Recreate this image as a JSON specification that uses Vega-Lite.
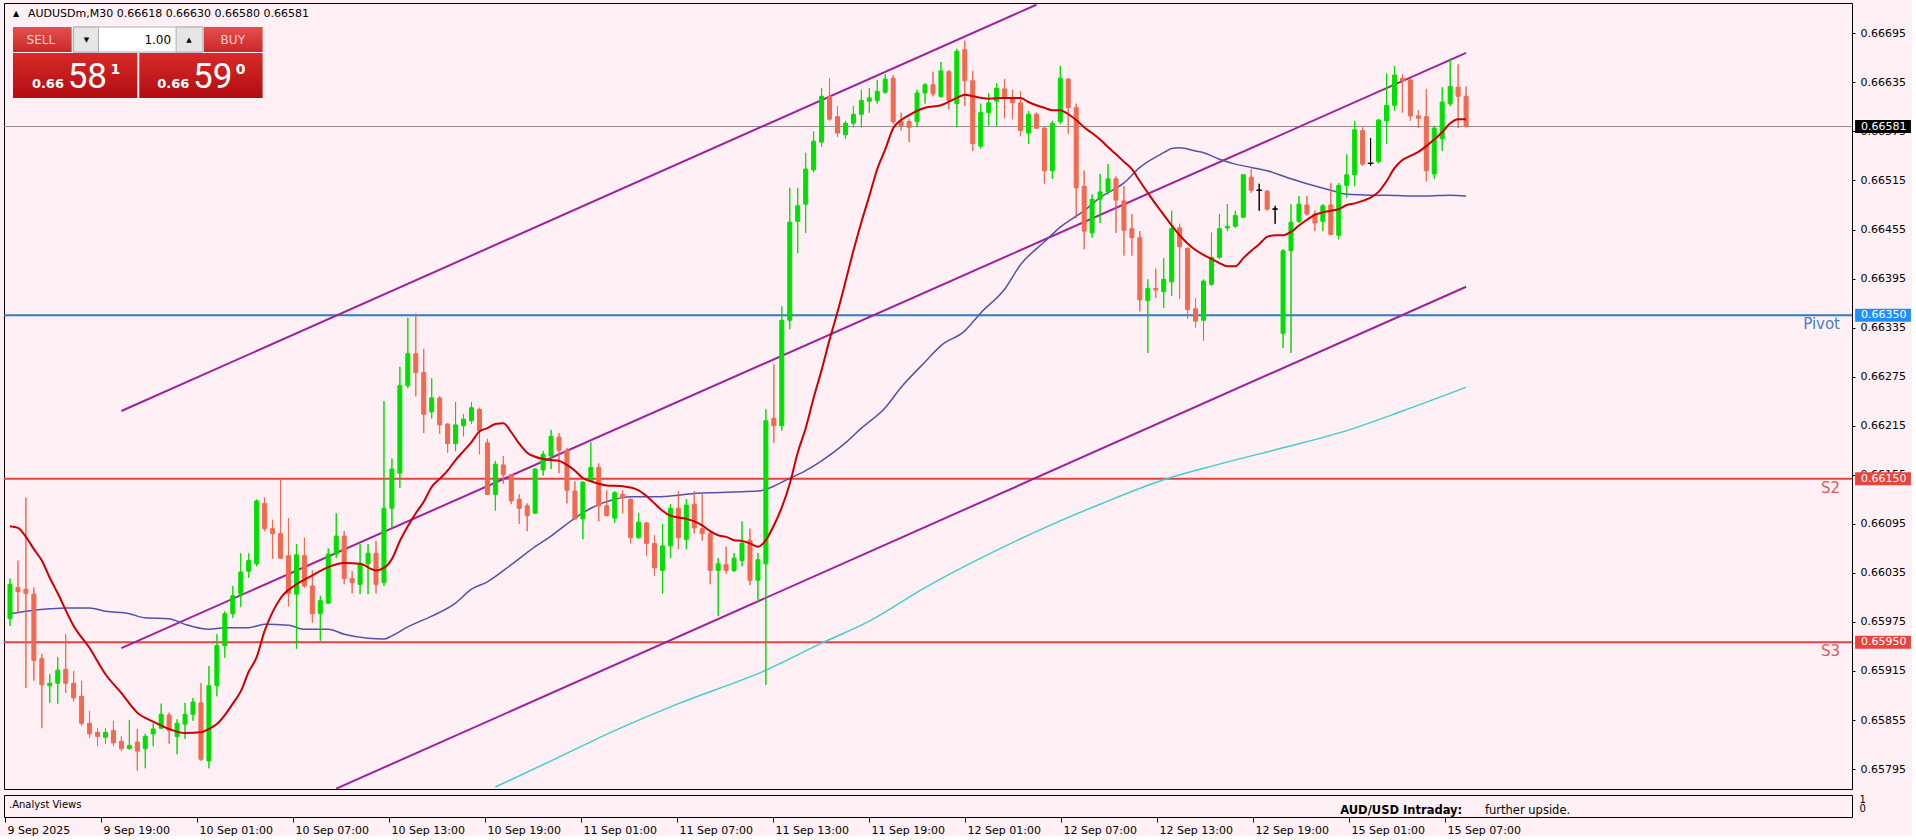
{
"$schema":"https://vega.github.io/schema/vega-lite/v6.json",
"background":"#FFF0F5",
"padding":{"left":2,"top":2,"right":0,"bottom":0},
"config":{"view":{"stroke":"#000000","strokeWidth":1},"font":"DejaVu Sans",
 "axis":{"domain":false,"grid":false,"title":null,"tickColor":"#000000","labelColor":"#000000","labelFont":"DejaVu Sans","labelFontSize":11,"labelOverlap":false,"labelFlush":false}},
"spacing":4,
"datasets":{
"candles":[
{"i":0,"o":0.65979,"h":0.66028,"l":0.6597,"c":0.66021},
{"i":1,"o":0.66017,"h":0.6605,"l":0.65985,"c":0.66012},
{"i":2,"o":0.66015,"h":0.66127,"l":0.65894,"c":0.6601},
{"i":3,"o":0.66009,"h":0.66017,"l":0.65903,"c":0.65928},
{"i":4,"o":0.6593,"h":0.65936,"l":0.65845,"c":0.65898},
{"i":5,"o":0.65897,"h":0.65911,"l":0.65876,"c":0.659},
{"i":6,"o":0.659,"h":0.65932,"l":0.65875,"c":0.65916},
{"i":7,"o":0.65917,"h":0.6596,"l":0.65888,"c":0.659},
{"i":8,"o":0.659,"h":0.65915,"l":0.65878,"c":0.65882},
{"i":9,"o":0.65884,"h":0.65903,"l":0.65848,"c":0.65851},
{"i":10,"o":0.65851,"h":0.65866,"l":0.65833,"c":0.65838},
{"i":11,"o":0.6584,"h":0.65845,"l":0.65823,"c":0.65835},
{"i":12,"o":0.65834,"h":0.65845,"l":0.65826,"c":0.6584},
{"i":13,"o":0.65842,"h":0.65854,"l":0.65823,"c":0.65827},
{"i":14,"o":0.65829,"h":0.65835,"l":0.65817,"c":0.6582},
{"i":15,"o":0.6582,"h":0.65855,"l":0.65819,"c":0.65824},
{"i":16,"o":0.65828,"h":0.65844,"l":0.65793,"c":0.65817},
{"i":17,"o":0.6582,"h":0.65838,"l":0.65796,"c":0.65835},
{"i":18,"o":0.65838,"h":0.65851,"l":0.65823,"c":0.65844},
{"i":19,"o":0.65845,"h":0.65875,"l":0.65844,"c":0.65862},
{"i":20,"o":0.65861,"h":0.65864,"l":0.65826,"c":0.65842},
{"i":21,"o":0.65835,"h":0.65856,"l":0.65813,"c":0.65851},
{"i":22,"o":0.6585,"h":0.65876,"l":0.65832,"c":0.65862},
{"i":23,"o":0.65862,"h":0.65882,"l":0.65854,"c":0.65877},
{"i":24,"o":0.65876,"h":0.659,"l":0.65805,"c":0.65807},
{"i":25,"o":0.65805,"h":0.65921,"l":0.65796,"c":0.65897},
{"i":26,"o":0.65897,"h":0.6596,"l":0.65884,"c":0.65946},
{"i":27,"o":0.65946,"h":0.65988,"l":0.65931,"c":0.65985},
{"i":28,"o":0.65985,"h":0.66019,"l":0.6598,"c":0.66007},
{"i":29,"o":0.66009,"h":0.66059,"l":0.65993,"c":0.66036},
{"i":30,"o":0.66037,"h":0.66059,"l":0.66029,"c":0.6605},
{"i":31,"o":0.66046,"h":0.66125,"l":0.66043,"c":0.66123},
{"i":32,"o":0.6612,"h":0.66127,"l":0.66086,"c":0.66089},
{"i":33,"o":0.66089,"h":0.661,"l":0.66052,"c":0.66083},
{"i":34,"o":0.66083,"h":0.66149,"l":0.66052,"c":0.66053},
{"i":35,"o":0.66056,"h":0.66102,"l":0.65994,"c":0.6601},
{"i":36,"o":0.66009,"h":0.6607,"l":0.65942,"c":0.66057},
{"i":37,"o":0.66056,"h":0.66078,"l":0.66017,"c":0.66019},
{"i":38,"o":0.66019,"h":0.66038,"l":0.65974,"c":0.65985},
{"i":39,"o":0.65985,"h":0.66007,"l":0.65952,"c":0.66001},
{"i":40,"o":0.65998,"h":0.66065,"l":0.65997,"c":0.66058},
{"i":41,"o":0.66058,"h":0.66108,"l":0.66053,"c":0.6608},
{"i":42,"o":0.6608,"h":0.66086,"l":0.66021,"c":0.66028},
{"i":43,"o":0.66028,"h":0.66037,"l":0.6601,"c":0.66023},
{"i":44,"o":0.66021,"h":0.6607,"l":0.66009,"c":0.66046},
{"i":45,"o":0.66046,"h":0.6607,"l":0.66009,"c":0.66059},
{"i":46,"o":0.66059,"h":0.66074,"l":0.6601,"c":0.66021},
{"i":47,"o":0.66023,"h":0.66245,"l":0.66019,"c":0.66114},
{"i":48,"o":0.66114,"h":0.66175,"l":0.66089,"c":0.66162},
{"i":49,"o":0.66157,"h":0.66287,"l":0.66139,"c":0.66264},
{"i":50,"o":0.66264,"h":0.66347,"l":0.66261,"c":0.66303},
{"i":51,"o":0.66303,"h":0.66352,"l":0.66251,"c":0.6628},
{"i":52,"o":0.6628,"h":0.66309,"l":0.66206,"c":0.66229},
{"i":53,"o":0.66232,"h":0.66273,"l":0.66224,"c":0.66249},
{"i":54,"o":0.66249,"h":0.66251,"l":0.66205,"c":0.66216},
{"i":55,"o":0.66217,"h":0.66218,"l":0.66182,"c":0.66193},
{"i":56,"o":0.66193,"h":0.66244,"l":0.66184,"c":0.66216},
{"i":57,"o":0.66215,"h":0.66229,"l":0.66202,"c":0.66223},
{"i":58,"o":0.66221,"h":0.66244,"l":0.66217,"c":0.66237},
{"i":59,"o":0.66235,"h":0.66237,"l":0.6618,"c":0.66209},
{"i":60,"o":0.66194,"h":0.66199,"l":0.6613,"c":0.66131},
{"i":61,"o":0.66131,"h":0.66172,"l":0.66111,"c":0.66168},
{"i":62,"o":0.66167,"h":0.66178,"l":0.66144,"c":0.66155},
{"i":63,"o":0.66155,"h":0.66156,"l":0.66119,"c":0.66123},
{"i":64,"o":0.66125,"h":0.66131,"l":0.66095,"c":0.66114},
{"i":65,"o":0.66117,"h":0.6612,"l":0.66086,"c":0.66105},
{"i":66,"o":0.66108,"h":0.66163,"l":0.66107,"c":0.66162},
{"i":67,"o":0.66161,"h":0.66184,"l":0.66154,"c":0.6618},
{"i":68,"o":0.66178,"h":0.6621,"l":0.66162,"c":0.66202},
{"i":69,"o":0.66201,"h":0.66206,"l":0.66157,"c":0.66185},
{"i":70,"o":0.66185,"h":0.66188,"l":0.6612,"c":0.66136},
{"i":71,"o":0.66135,"h":0.66147,"l":0.661,"c":0.66101},
{"i":72,"o":0.66101,"h":0.66147,"l":0.66076,"c":0.66146},
{"i":73,"o":0.66147,"h":0.66195,"l":0.66146,"c":0.66164},
{"i":74,"o":0.66164,"h":0.66169,"l":0.66098,"c":0.66117},
{"i":75,"o":0.66117,"h":0.66136,"l":0.66104,"c":0.66105},
{"i":76,"o":0.66102,"h":0.66135,"l":0.66096,"c":0.66133},
{"i":77,"o":0.66131,"h":0.66136,"l":0.66108,"c":0.66127},
{"i":78,"o":0.66125,"h":0.66126,"l":0.66071,"c":0.66078},
{"i":79,"o":0.66078,"h":0.66108,"l":0.66077,"c":0.66097},
{"i":80,"o":0.66096,"h":0.66097,"l":0.66056,"c":0.66071},
{"i":81,"o":0.66071,"h":0.66081,"l":0.66031,"c":0.66041},
{"i":82,"o":0.66038,"h":0.66095,"l":0.6601,"c":0.66068},
{"i":83,"o":0.66068,"h":0.66119,"l":0.66053,"c":0.66114},
{"i":84,"o":0.66114,"h":0.66135,"l":0.66064,"c":0.66078},
{"i":85,"o":0.66076,"h":0.66125,"l":0.66064,"c":0.66118},
{"i":86,"o":0.66119,"h":0.66135,"l":0.66083,"c":0.6609},
{"i":87,"o":0.66089,"h":0.66131,"l":0.66074,"c":0.66083},
{"i":88,"o":0.66083,"h":0.66086,"l":0.66021,"c":0.66038},
{"i":89,"o":0.66038,"h":0.66053,"l":0.65982,"c":0.66046},
{"i":90,"o":0.66045,"h":0.66067,"l":0.66034,"c":0.66038},
{"i":91,"o":0.66038,"h":0.66059,"l":0.66036,"c":0.66053},
{"i":92,"o":0.6605,"h":0.66098,"l":0.66043,"c":0.66071},
{"i":93,"o":0.66075,"h":0.66089,"l":0.6602,"c":0.66026},
{"i":94,"o":0.66026,"h":0.66059,"l":0.65999,"c":0.66051},
{"i":95,"o":0.66046,"h":0.66235,"l":0.65898,"c":0.66221},
{"i":96,"o":0.66224,"h":0.6629,"l":0.66194,"c":0.66215},
{"i":97,"o":0.66215,"h":0.66361,"l":0.66209,"c":0.66344},
{"i":98,"o":0.66344,"h":0.66506,"l":0.66333,"c":0.66464},
{"i":99,"o":0.66465,"h":0.66506,"l":0.66426,"c":0.66484},
{"i":100,"o":0.66486,"h":0.66549,"l":0.66451,"c":0.66529},
{"i":101,"o":0.66528,"h":0.66575,"l":0.66525,"c":0.66563},
{"i":102,"o":0.66562,"h":0.66628,"l":0.66556,"c":0.66618},
{"i":103,"o":0.66618,"h":0.6664,"l":0.66588,"c":0.6659},
{"i":104,"o":0.66593,"h":0.66606,"l":0.66568,"c":0.66573},
{"i":105,"o":0.66571,"h":0.66588,"l":0.66566,"c":0.66585},
{"i":106,"o":0.66585,"h":0.66606,"l":0.6658,"c":0.66596},
{"i":107,"o":0.66596,"h":0.66626,"l":0.6658,"c":0.66613},
{"i":108,"o":0.66612,"h":0.66628,"l":0.66598,"c":0.66616},
{"i":109,"o":0.66613,"h":0.66638,"l":0.66609,"c":0.66624},
{"i":110,"o":0.66623,"h":0.66645,"l":0.66621,"c":0.66639},
{"i":111,"o":0.6664,"h":0.66644,"l":0.66584,"c":0.66587},
{"i":112,"o":0.66587,"h":0.66598,"l":0.66576,"c":0.66582},
{"i":113,"o":0.66587,"h":0.6659,"l":0.66562,"c":0.6658},
{"i":114,"o":0.66587,"h":0.66626,"l":0.6658,"c":0.66622},
{"i":115,"o":0.66622,"h":0.66634,"l":0.66609,"c":0.66632},
{"i":116,"o":0.66632,"h":0.66648,"l":0.66618,"c":0.66621},
{"i":117,"o":0.66618,"h":0.6666,"l":0.66616,"c":0.66649},
{"i":118,"o":0.66648,"h":0.6665,"l":0.66602,"c":0.66613},
{"i":119,"o":0.66609,"h":0.66676,"l":0.6658,"c":0.66673},
{"i":120,"o":0.66675,"h":0.66686,"l":0.66606,"c":0.66637},
{"i":121,"o":0.66637,"h":0.66649,"l":0.66551,"c":0.6656},
{"i":122,"o":0.66557,"h":0.66609,"l":0.66554,"c":0.66598},
{"i":123,"o":0.66598,"h":0.66622,"l":0.66582,"c":0.6661},
{"i":124,"o":0.66612,"h":0.66634,"l":0.66582,"c":0.66628},
{"i":125,"o":0.66627,"h":0.66639,"l":0.66591,"c":0.66616},
{"i":126,"o":0.66616,"h":0.66626,"l":0.6659,"c":0.6661},
{"i":127,"o":0.6661,"h":0.66624,"l":0.66569,"c":0.66576},
{"i":128,"o":0.66573,"h":0.666,"l":0.6656,"c":0.66596},
{"i":129,"o":0.66596,"h":0.66598,"l":0.66578,"c":0.66579},
{"i":130,"o":0.66579,"h":0.6658,"l":0.66511,"c":0.66527},
{"i":131,"o":0.66527,"h":0.66588,"l":0.66517,"c":0.66585},
{"i":132,"o":0.66587,"h":0.66655,"l":0.66584,"c":0.6664},
{"i":133,"o":0.66639,"h":0.6664,"l":0.66572,"c":0.66604},
{"i":134,"o":0.66604,"h":0.66609,"l":0.66469,"c":0.66506},
{"i":135,"o":0.66508,"h":0.66527,"l":0.66431,"c":0.66453},
{"i":136,"o":0.66451,"h":0.66498,"l":0.66445,"c":0.66492},
{"i":137,"o":0.66492,"h":0.66523,"l":0.66463,"c":0.66501},
{"i":138,"o":0.66501,"h":0.66535,"l":0.66498,"c":0.66517},
{"i":139,"o":0.66517,"h":0.6652,"l":0.66451,"c":0.66491},
{"i":140,"o":0.6649,"h":0.66508,"l":0.66423,"c":0.66454},
{"i":141,"o":0.66456,"h":0.66474,"l":0.66423,"c":0.66445},
{"i":142,"o":0.66445,"h":0.66453,"l":0.66355,"c":0.66369},
{"i":143,"o":0.66368,"h":0.66394,"l":0.66304,"c":0.66383},
{"i":144,"o":0.66383,"h":0.66407,"l":0.66371,"c":0.66381},
{"i":145,"o":0.66379,"h":0.6642,"l":0.66359,"c":0.66394},
{"i":146,"o":0.66391,"h":0.66478,"l":0.66374,"c":0.66456},
{"i":147,"o":0.66457,"h":0.66462,"l":0.6637,"c":0.66434},
{"i":148,"o":0.66432,"h":0.66433,"l":0.66346,"c":0.66357},
{"i":149,"o":0.66358,"h":0.66371,"l":0.66335,"c":0.66343},
{"i":150,"o":0.66344,"h":0.66394,"l":0.66319,"c":0.66392},
{"i":151,"o":0.66388,"h":0.66451,"l":0.66386,"c":0.66421},
{"i":152,"o":0.66421,"h":0.66474,"l":0.66419,"c":0.66456},
{"i":153,"o":0.66457,"h":0.66486,"l":0.66453,"c":0.66459},
{"i":154,"o":0.66459,"h":0.66478,"l":0.66457,"c":0.66472},
{"i":155,"o":0.6647,"h":0.66523,"l":0.66469,"c":0.66522},
{"i":156,"o":0.66519,"h":0.66529,"l":0.665,"c":0.66503},
{"i":157,"o":0.66503,"h":0.66511,"l":0.66478,"c":0.66503},
{"i":158,"o":0.66502,"h":0.66503,"l":0.66478,"c":0.6648},
{"i":159,"o":0.6648,"h":0.66484,"l":0.66462,"c":0.6648},
{"i":160,"o":0.66328,"h":0.66431,"l":0.6631,"c":0.66429},
{"i":161,"o":0.66429,"h":0.66486,"l":0.66304,"c":0.66464},
{"i":162,"o":0.66465,"h":0.66496,"l":0.66463,"c":0.66486},
{"i":163,"o":0.66485,"h":0.66496,"l":0.66472,"c":0.66474},
{"i":164,"o":0.66474,"h":0.66478,"l":0.66453,"c":0.66463},
{"i":165,"o":0.66465,"h":0.66486,"l":0.66453,"c":0.66484},
{"i":166,"o":0.66485,"h":0.66512,"l":0.66448,"c":0.66449},
{"i":167,"o":0.66448,"h":0.66512,"l":0.66443,"c":0.66509},
{"i":168,"o":0.66509,"h":0.66547,"l":0.66494,"c":0.66522},
{"i":169,"o":0.66522,"h":0.66588,"l":0.66508,"c":0.66577},
{"i":170,"o":0.66576,"h":0.6658,"l":0.66533,"c":0.66535},
{"i":171,"o":0.66536,"h":0.66567,"l":0.66533,"c":0.66536},
{"i":172,"o":0.66538,"h":0.6659,"l":0.66536,"c":0.66589},
{"i":173,"o":0.66588,"h":0.66646,"l":0.6656,"c":0.66607},
{"i":174,"o":0.66607,"h":0.66655,"l":0.666,"c":0.66644},
{"i":175,"o":0.6664,"h":0.66645,"l":0.66598,"c":0.66637},
{"i":176,"o":0.66638,"h":0.6664,"l":0.66588,"c":0.66594},
{"i":177,"o":0.66594,"h":0.66601,"l":0.66579,"c":0.66591},
{"i":178,"o":0.66593,"h":0.66627,"l":0.66514,"c":0.66527},
{"i":179,"o":0.66523,"h":0.66582,"l":0.66517,"c":0.66579},
{"i":180,"o":0.66566,"h":0.66629,"l":0.66551,"c":0.66611},
{"i":181,"o":0.66609,"h":0.66664,"l":0.66606,"c":0.6663},
{"i":182,"o":0.66629,"h":0.66657,"l":0.66579,"c":0.66618},
{"i":183,"o":0.66618,"h":0.6663,"l":0.6658,"c":0.66581}
],
"maFast":[{"i":0,"v":0.66092},{"i":1,"v":0.6609},{"i":2,"v":0.66079},{"i":3,"v":0.66064},{"i":4,"v":0.6605},{"i":5,"v":0.66029},{"i":6,"v":0.6601},{"i":8,"v":0.6597},{"i":10,"v":0.65943},{"i":12,"v":0.65911},{"i":14,"v":0.65888},{"i":16,"v":0.65864},{"i":18,"v":0.65853},{"i":20,"v":0.65844},{"i":22,"v":0.65839},{"i":24,"v":0.6584},{"i":25,"v":0.65844},{"i":26,"v":0.6585},{"i":27,"v":0.65861},{"i":28,"v":0.65875},{"i":29,"v":0.6589},{"i":30,"v":0.65914},{"i":31,"v":0.65932},{"i":32,"v":0.65964},{"i":33,"v":0.65987},{"i":34,"v":0.66004},{"i":36,"v":0.66021},{"i":38,"v":0.66032},{"i":40,"v":0.66042},{"i":42,"v":0.66047},{"i":44,"v":0.66046},{"i":46,"v":0.66038},{"i":47,"v":0.66041},{"i":48,"v":0.66052},{"i":49,"v":0.66074},{"i":50,"v":0.66092},{"i":51,"v":0.66108},{"i":52,"v":0.66122},{"i":53,"v":0.6614},{"i":54,"v":0.6615},{"i":55,"v":0.6616},{"i":56,"v":0.66173},{"i":57,"v":0.66184},{"i":58,"v":0.66195},{"i":59,"v":0.66208},{"i":60,"v":0.66212},{"i":61,"v":0.66217},{"i":62,"v":0.66218},{"i":63,"v":0.66207},{"i":64,"v":0.66193},{"i":65,"v":0.66182},{"i":66,"v":0.66177},{"i":68,"v":0.66173},{"i":69,"v":0.66172},{"i":70,"v":0.66167},{"i":71,"v":0.6616},{"i":72,"v":0.66151},{"i":73,"v":0.66147},{"i":75,"v":0.66142},{"i":77,"v":0.66141},{"i":79,"v":0.66136},{"i":80,"v":0.66129},{"i":81,"v":0.6612},{"i":82,"v":0.66111},{"i":83,"v":0.66105},{"i":85,"v":0.66101},{"i":86,"v":0.66098},{"i":87,"v":0.66093},{"i":88,"v":0.66086},{"i":89,"v":0.66081},{"i":90,"v":0.66079},{"i":91,"v":0.66075},{"i":92,"v":0.66074},{"i":93,"v":0.66071},{"i":94,"v":0.66067},{"i":95,"v":0.66075},{"i":96,"v":0.66093},{"i":97,"v":0.66115},{"i":98,"v":0.66144},{"i":99,"v":0.66182},{"i":100,"v":0.66212},{"i":101,"v":0.66249},{"i":102,"v":0.66283},{"i":103,"v":0.6632},{"i":104,"v":0.66354},{"i":105,"v":0.66391},{"i":106,"v":0.66429},{"i":107,"v":0.66464},{"i":108,"v":0.66496},{"i":109,"v":0.66529},{"i":110,"v":0.66553},{"i":111,"v":0.66579},{"i":112,"v":0.66589},{"i":113,"v":0.66595},{"i":115,"v":0.66604},{"i":117,"v":0.66607},{"i":119,"v":0.66616},{"i":120,"v":0.6662},{"i":121,"v":0.66618},{"i":123,"v":0.66615},{"i":125,"v":0.66616},{"i":127,"v":0.66616},{"i":128,"v":0.66611},{"i":129,"v":0.66607},{"i":130,"v":0.66604},{"i":131,"v":0.66601},{"i":132,"v":0.66601},{"i":133,"v":0.66596},{"i":134,"v":0.66589},{"i":135,"v":0.6658},{"i":136,"v":0.66573},{"i":137,"v":0.66565},{"i":138,"v":0.66556},{"i":139,"v":0.66547},{"i":140,"v":0.66538},{"i":141,"v":0.66529},{"i":142,"v":0.66514},{"i":143,"v":0.665},{"i":144,"v":0.66486},{"i":145,"v":0.66473},{"i":146,"v":0.6646},{"i":147,"v":0.66448},{"i":148,"v":0.66438},{"i":149,"v":0.6643},{"i":150,"v":0.66424},{"i":151,"v":0.66419},{"i":152,"v":0.66414},{"i":153,"v":0.6641},{"i":154,"v":0.6641},{"i":155,"v":0.6642},{"i":156,"v":0.66429},{"i":157,"v":0.66437},{"i":158,"v":0.66446},{"i":159,"v":0.66448},{"i":160,"v":0.66448},{"i":161,"v":0.66452},{"i":162,"v":0.6646},{"i":163,"v":0.66467},{"i":164,"v":0.66473},{"i":165,"v":0.66476},{"i":166,"v":0.66478},{"i":167,"v":0.6648},{"i":168,"v":0.66485},{"i":169,"v":0.66487},{"i":170,"v":0.6649},{"i":171,"v":0.66494},{"i":172,"v":0.66501},{"i":173,"v":0.66514},{"i":174,"v":0.6653},{"i":175,"v":0.6654},{"i":176,"v":0.66545},{"i":177,"v":0.6655},{"i":178,"v":0.66557},{"i":179,"v":0.66565},{"i":180,"v":0.66574},{"i":181,"v":0.66585},{"i":182,"v":0.6659},{"i":183,"v":0.6659}],
"maMid":[{"i":0,"v":0.65985},{"i":2,"v":0.65988},{"i":5,"v":0.65991},{"i":7,"v":0.65992},{"i":10,"v":0.65992},{"i":12,"v":0.65988},{"i":15,"v":0.65985},{"i":17,"v":0.6598},{"i":20,"v":0.65979},{"i":22,"v":0.65972},{"i":25,"v":0.65966},{"i":27,"v":0.65968},{"i":30,"v":0.65968},{"i":32,"v":0.65972},{"i":35,"v":0.65971},{"i":37,"v":0.65966},{"i":40,"v":0.65966},{"i":42,"v":0.6596},{"i":45,"v":0.65955},{"i":47,"v":0.65954},{"i":48,"v":0.65958},{"i":50,"v":0.65969},{"i":53,"v":0.65982},{"i":56,"v":0.65998},{"i":58,"v":0.66015},{"i":60,"v":0.66024},{"i":63,"v":0.66045},{"i":66,"v":0.66067},{"i":68,"v":0.6608},{"i":71,"v":0.66102},{"i":73,"v":0.66114},{"i":76,"v":0.66125},{"i":78,"v":0.66128},{"i":81,"v":0.66128},{"i":83,"v":0.66129},{"i":86,"v":0.66132},{"i":88,"v":0.66133},{"i":91,"v":0.66134},{"i":94,"v":0.66135},{"i":96,"v":0.66141},{"i":97,"v":0.66146},{"i":100,"v":0.6616},{"i":102,"v":0.66172},{"i":105,"v":0.66194},{"i":107,"v":0.66212},{"i":110,"v":0.66237},{"i":112,"v":0.66262},{"i":115,"v":0.66293},{"i":117,"v":0.66313},{"i":120,"v":0.66331},{"i":122,"v":0.66353},{"i":125,"v":0.66382},{"i":127,"v":0.66412},{"i":130,"v":0.6644},{"i":132,"v":0.66458},{"i":135,"v":0.66478},{"i":137,"v":0.66494},{"i":140,"v":0.66512},{"i":142,"v":0.66531},{"i":145,"v":0.66549},{"i":146,"v":0.66554},{"i":147,"v":0.66555},{"i":149,"v":0.66551},{"i":150,"v":0.66549},{"i":152,"v":0.66541},{"i":154,"v":0.66535},{"i":156,"v":0.66531},{"i":158,"v":0.66527},{"i":161,"v":0.66517},{"i":163,"v":0.66511},{"i":166,"v":0.66503},{"i":168,"v":0.66498},{"i":171,"v":0.66497},{"i":173,"v":0.66497},{"i":176,"v":0.66496},{"i":178,"v":0.66496},{"i":181,"v":0.66497},{"i":183,"v":0.66496}],
"maSlow":[{"i":61,"v":0.65773},{"i":68,"v":0.65805},{"i":76,"v":0.65842},{"i":84,"v":0.65875},{"i":95,"v":0.65916},{"i":102,"v":0.65949},{"i":108,"v":0.65976},{"i":115,"v":0.66017},{"i":122,"v":0.66053},{"i":130,"v":0.6609},{"i":137,"v":0.66119},{"i":145,"v":0.66149},{"i":152,"v":0.66168},{"i":160,"v":0.66188},{"i":168,"v":0.66209},{"i":175,"v":0.66233},{"i":183,"v":0.66262}],
"channels":[{"line":"upper","i":14,"p":0.66233},{"line":"upper","i":129,"p":0.6673},{"line":"middle","i":14,"p":0.65943},{"line":"middle","i":183,"p":0.66671},{"line":"lower","i":41,"p":0.65771},{"line":"lower","i":183,"p":0.66385}],
"levels":[{"name":"Pivot","kind":"pivot","p":0.6635},{"name":"S2","kind":"support","p":0.6615},{"name":"S3","kind":"support","p":0.6595}],
"last":[{"p":0.66581}],
"subScale":[{"v":0},{"v":1}]
},
"vconcat":[
{
"width":1848,"height":786,
"resolve":{"axis":{"x":"independent","y":"independent"}},
"layer":[
{"data":{"name":"candles"},"mark":{"type":"rule","strokeWidth":1},
 "encoding":{"x":{"field":"i","type":"quantitative","scale":{"domain":[-0.125,230.875],"nice":false,"zero":false},"axis":null},
  "y":{"field":"l","type":"quantitative","scale":{"domain":[0.657706,0.667321],"nice":false,"zero":false},
   "axis":{"orient":"right","values":[0.65795,0.65855,0.65915,0.65975,0.66035,0.66095,0.66155,0.66215,0.66275,0.66335,0.66395,0.66455,0.66515,0.66575,0.66635,0.66695],"format":".5f","tickSize":3,"labelPadding":5}},
  "y2":{"field":"h"},
  "color":{"condition":[{"test":"datum.c == datum.o","value":"#000000"},{"test":"datum.c > datum.o","value":"#00E000"}],"value":"#F06A50"}}},
{"data":{"name":"levels"},"mark":{"type":"rule","strokeWidth":2},
 "encoding":{"y":{"field":"p","type":"quantitative","scale":{"domain":[0.657706,0.667321],"nice":false,"zero":false},"axis":null},
  "color":{"condition":{"test":"datum.kind == 'pivot'","value":"#2F7CC4"},"value":"#E2443E"}}},
{"data":{"name":"last"},"mark":{"type":"rule","strokeWidth":1,"color":"#8F8F8F"},
 "encoding":{"y":{"field":"p","type":"quantitative","scale":{"domain":[0.657706,0.667321],"nice":false,"zero":false},"axis":null}}},
{"data":{"name":"channels"},"mark":{"type":"line","strokeWidth":2,"color":"#A0219B","clip":true},
 "encoding":{"x":{"field":"i","type":"quantitative","scale":{"domain":[-0.125,230.875],"nice":false,"zero":false},"axis":null},
  "y":{"field":"p","type":"quantitative","scale":{"domain":[0.657706,0.667321],"nice":false,"zero":false},"axis":null},
  "detail":{"field":"line","type":"nominal"}}},
{"data":{"name":"maSlow"},"mark":{"type":"line","strokeWidth":1.5,"color":"#45CCCC","clip":true,"interpolate":"monotone"},
 "encoding":{"x":{"field":"i","type":"quantitative","scale":{"domain":[-0.125,230.875],"nice":false,"zero":false},"axis":null},
  "y":{"field":"v","type":"quantitative","scale":{"domain":[0.657706,0.667321],"nice":false,"zero":false},"axis":null}}},
{"data":{"name":"maMid"},"mark":{"type":"line","strokeWidth":1.5,"color":"#5252AA","clip":true,"interpolate":"monotone"},
 "encoding":{"x":{"field":"i","type":"quantitative","scale":{"domain":[-0.125,230.875],"nice":false,"zero":false},"axis":null},
  "y":{"field":"v","type":"quantitative","scale":{"domain":[0.657706,0.667321],"nice":false,"zero":false},"axis":null}}},
{"data":{"name":"candles"},"mark":{"type":"rule","strokeWidth":1},
 "encoding":{"x":{"field":"i","type":"quantitative","scale":{"domain":[-0.125,230.875],"nice":false,"zero":false},"axis":null},
  "y":{"field":"l","type":"quantitative","scale":{"domain":[0.657706,0.667321],"nice":false,"zero":false},"axis":null},
  "y2":{"field":"h"},
  "color":{"condition":[{"test":"datum.c == datum.o","value":"#000000"},{"test":"datum.c > datum.o","value":"#00E000"}],"value":"#F06A50"}}},
{"data":{"name":"candles"},"mark":{"type":"bar","width":4,"strokeWidth":1},
 "encoding":{"x":{"field":"i","type":"quantitative","scale":{"domain":[-0.125,230.875],"nice":false,"zero":false},"axis":null},
  "y":{"field":"o","type":"quantitative","scale":{"domain":[0.657706,0.667321],"nice":false,"zero":false},"axis":null},
  "y2":{"field":"c"},
  "fill":{"condition":[{"test":"datum.c == datum.o","value":"#000000"},{"test":"datum.c > datum.o","value":"#00E000"}],"value":"#F06A50"},
  "stroke":{"condition":[{"test":"datum.c == datum.o","value":"#000000"},{"test":"datum.c > datum.o","value":"#00E000"}],"value":"#F06A50"}}},
{"data":{"name":"candles"},"transform":[{"filter":"datum.c == datum.o"}],"mark":{"type":"tick","orient":"horizontal","size":6,"thickness":1,"color":"#000000","opacity":1},
 "encoding":{"x":{"field":"i","type":"quantitative","scale":{"domain":[-0.125,230.875],"nice":false,"zero":false},"axis":null},
  "y":{"field":"o","type":"quantitative","scale":{"domain":[0.657706,0.667321],"nice":false,"zero":false},"axis":null}}},
{"data":{"name":"maFast"},"mark":{"type":"line","strokeWidth":2,"color":"#CC0000","clip":true,"interpolate":"monotone"},
 "encoding":{"x":{"field":"i","type":"quantitative","scale":{"domain":[-0.125,230.875],"nice":false,"zero":false},"axis":null},
  "y":{"field":"v","type":"quantitative","scale":{"domain":[0.657706,0.667321],"nice":false,"zero":false},"axis":null}}},
{"data":{"name":"levels"},"mark":{"type":"text","align":"right","baseline":"top","dx":-12,"dy":2,"font":"DejaVu Sans","fontSize":15},
 "encoding":{"x":{"value":"width"},
  "y":{"field":"p","type":"quantitative","scale":{"domain":[0.657706,0.667321],"nice":false,"zero":false},"axis":null},
  "text":{"field":"name"},
  "color":{"condition":{"test":"datum.kind == 'pivot'","value":"#4682C8"},"value":"#E05A55"}}},
{"data":{"name":"levels"},"mark":{"type":"point","shape":"M0.1,-0.21L1.9,-0.21L1.9,0.21L0.1,0.21Z","size":3844,"filled":true,"opacity":1,"strokeWidth":0},
 "encoding":{"x":{"value":"width"},
  "y":{"field":"p","type":"quantitative","scale":{"domain":[0.657706,0.667321],"nice":false,"zero":false},"axis":null},
  "color":{"condition":{"test":"datum.kind == 'pivot'","value":"#1E8FFF"},"value":"#E8433F"}}},
{"data":{"name":"last"},"mark":{"type":"point","shape":"M0.1,-0.21L1.9,-0.21L1.9,0.21L0.1,0.21Z","size":3844,"filled":true,"opacity":1,"strokeWidth":0,"color":"#000000"},
 "encoding":{"x":{"value":"width"},
  "y":{"field":"p","type":"quantitative","scale":{"domain":[0.657706,0.667321],"nice":false,"zero":false},"axis":null}}},
{"data":{"name":"levels"},"mark":{"type":"text","align":"left","baseline":"middle","dx":9,"font":"DejaVu Sans","fontSize":11,"color":"#FFFFFF"},
 "encoding":{"x":{"value":"width"},
  "y":{"field":"p","type":"quantitative","scale":{"domain":[0.657706,0.667321],"nice":false,"zero":false},"axis":null},
  "text":{"field":"p","type":"quantitative","format":".5f"}}},
{"data":{"name":"last"},"mark":{"type":"text","align":"left","baseline":"middle","dx":9,"font":"DejaVu Sans","fontSize":11,"color":"#FFFFFF"},
 "encoding":{"x":{"value":"width"},
  "y":{"field":"p","type":"quantitative","scale":{"domain":[0.657706,0.667321],"nice":false,"zero":false},"axis":null},
  "text":{"field":"p","type":"quantitative","format":".5f"}}},
{"data":{"values":[{}]},"mark":{"type":"text","text":"▲","align":"center","baseline":"middle","fontSize":8,"color":"#000000"},
 "encoding":{"x":{"datum":0.75,"type":"quantitative","scale":{"domain":[-0.125,230.875],"nice":false,"zero":false},"axis":null},
  "y":{"datum":0.667186,"type":"quantitative","scale":{"domain":[0.657706,0.667321],"nice":false,"zero":false},"axis":null}}},
{"data":{"values":[{}]},"mark":{"type":"text","text":"AUDUSDm,M30  0.66618 0.66630 0.66580 0.66581","align":"left","baseline":"middle","font":"DejaVu Sans","fontSize":11,"color":"#000000"},
 "encoding":{"x":{"datum":2.25,"type":"quantitative","scale":{"domain":[-0.125,230.875],"nice":false,"zero":false},"axis":null},
  "y":{"datum":0.667186,"type":"quantitative","scale":{"domain":[0.657706,0.667321],"nice":false,"zero":false},"axis":null}}},
{"data":{"values":[{}]},"mark":{"type":"rect","fill":{"gradient":"linear","x1":0,"y1":0,"x2":0,"y2":1,"stops":[{"offset":0,"color":"#E4504A"},{"offset":1,"color":"#C9282A"}]}},
 "encoding":{"x":{"datum":0.375,"type":"quantitative","scale":{"domain":[-0.125,230.875],"nice":false,"zero":false},"axis":null},"x2":{"datum":7.75},
  "y":{"datum":0.666721,"type":"quantitative","scale":{"domain":[0.657706,0.667321],"nice":false,"zero":false},"axis":null},"y2":{"datum":0.667027}}},
{"data":{"values":[{}]},"mark":{"type":"rect","fill":{"gradient":"linear","x1":0,"y1":0,"x2":0,"y2":1,"stops":[{"offset":0,"color":"#E4504A"},{"offset":1,"color":"#C9282A"}]}},
 "encoding":{"x":{"datum":24.375,"type":"quantitative","scale":{"domain":[-0.125,230.875],"nice":false,"zero":false},"axis":null},"x2":{"datum":31.75},
  "y":{"datum":0.666721,"type":"quantitative","scale":{"domain":[0.657706,0.667321],"nice":false,"zero":false},"axis":null},"y2":{"datum":0.667027}}},
{"data":{"values":[{}]},"mark":{"type":"rect","fill":"#FFFFFF","stroke":"#B0B0B0","strokeWidth":1},
 "encoding":{"x":{"datum":8.0,"type":"quantitative","scale":{"domain":[-0.125,230.875],"nice":false,"zero":false},"axis":null},"x2":{"datum":24.25},
  "y":{"datum":0.666721,"type":"quantitative","scale":{"domain":[0.657706,0.667321],"nice":false,"zero":false},"axis":null},"y2":{"datum":0.667027}}},
{"data":{"values":[{}]},"mark":{"type":"rect","fill":"#E6E6E6","stroke":"#B0B0B0","strokeWidth":1},
 "encoding":{"x":{"datum":8.0,"type":"quantitative","scale":{"domain":[-0.125,230.875],"nice":false,"zero":false},"axis":null},"x2":{"datum":11.125},
  "y":{"datum":0.666721,"type":"quantitative","scale":{"domain":[0.657706,0.667321],"nice":false,"zero":false},"axis":null},"y2":{"datum":0.667027}}},
{"data":{"values":[{}]},"mark":{"type":"rect","fill":"#E6E6E6","stroke":"#B0B0B0","strokeWidth":1},
 "encoding":{"x":{"datum":20.875,"type":"quantitative","scale":{"domain":[-0.125,230.875],"nice":false,"zero":false},"axis":null},"x2":{"datum":24.25},
  "y":{"datum":0.666721,"type":"quantitative","scale":{"domain":[0.657706,0.667321],"nice":false,"zero":false},"axis":null},"y2":{"datum":0.667027}}},
{"data":{"values":[{}]},"mark":{"type":"rect","fill":{"gradient":"linear","x1":0,"y1":0,"x2":0,"y2":1,"stops":[{"offset":0,"color":"#D82A28"},{"offset":1,"color":"#B10D12"}]}},
 "encoding":{"x":{"datum":0.375,"type":"quantitative","scale":{"domain":[-0.125,230.875],"nice":false,"zero":false},"axis":null},"x2":{"datum":16.0},
  "y":{"datum":0.666158,"type":"quantitative","scale":{"domain":[0.657706,0.667321],"nice":false,"zero":false},"axis":null},"y2":{"datum":0.666709}}},
{"data":{"values":[{}]},"mark":{"type":"rect","fill":{"gradient":"linear","x1":0,"y1":0,"x2":0,"y2":1,"stops":[{"offset":0,"color":"#D82A28"},{"offset":1,"color":"#B10D12"}]}},
 "encoding":{"x":{"datum":16.25,"type":"quantitative","scale":{"domain":[-0.125,230.875],"nice":false,"zero":false},"axis":null},"x2":{"datum":31.75},
  "y":{"datum":0.666158,"type":"quantitative","scale":{"domain":[0.657706,0.667321],"nice":false,"zero":false},"axis":null},"y2":{"datum":0.666709}}},
{"data":{"values":[{}]},"mark":{"type":"text","text":"SELL","align":"center","baseline":"middle","font":"DejaVu Sans","fontSize":12,"color":"#FFD2D2"},
 "encoding":{"x":{"datum":3.875,"type":"quantitative","scale":{"domain":[-0.125,230.875],"nice":false,"zero":false},"axis":null},
  "y":{"datum":0.666874,"type":"quantitative","scale":{"domain":[0.657706,0.667321],"nice":false,"zero":false},"axis":null}}},
{"data":{"values":[{}]},"mark":{"type":"text","text":"BUY","align":"center","baseline":"middle","font":"DejaVu Sans","fontSize":12,"color":"#FFD2D2"},
 "encoding":{"x":{"datum":28.0,"type":"quantitative","scale":{"domain":[-0.125,230.875],"nice":false,"zero":false},"axis":null},
  "y":{"datum":0.666874,"type":"quantitative","scale":{"domain":[0.657706,0.667321],"nice":false,"zero":false},"axis":null}}},
{"data":{"values":[{}]},"mark":{"type":"text","text":"1.00","align":"right","baseline":"middle","font":"DejaVu Sans","fontSize":12,"color":"#000000"},
 "encoding":{"x":{"datum":20.25,"type":"quantitative","scale":{"domain":[-0.125,230.875],"nice":false,"zero":false},"axis":null},
  "y":{"datum":0.666874,"type":"quantitative","scale":{"domain":[0.657706,0.667321],"nice":false,"zero":false},"axis":null}}},
{"data":{"values":[{}]},"mark":{"type":"text","text":"▼","align":"center","baseline":"middle","fontSize":7,"color":"#000000"},
 "encoding":{"x":{"datum":9.6,"type":"quantitative","scale":{"domain":[-0.125,230.875],"nice":false,"zero":false},"axis":null},
  "y":{"datum":0.666874,"type":"quantitative","scale":{"domain":[0.657706,0.667321],"nice":false,"zero":false},"axis":null}}},
{"data":{"values":[{}]},"mark":{"type":"text","text":"▲","align":"center","baseline":"middle","fontSize":7,"color":"#000000"},
 "encoding":{"x":{"datum":22.5,"type":"quantitative","scale":{"domain":[-0.125,230.875],"nice":false,"zero":false},"axis":null},
  "y":{"datum":0.666874,"type":"quantitative","scale":{"domain":[0.657706,0.667321],"nice":false,"zero":false},"axis":null}}},
{"data":{"values":[{}]},"mark":{"type":"text","text":"0.66","align":"left","baseline":"alphabetic","font":"DejaVu Sans","fontSize":13,"fontWeight":"bold","color":"#FFFFFF"},
 "encoding":{"x":{"datum":2.75,"type":"quantitative","scale":{"domain":[-0.125,230.875],"nice":false,"zero":false},"axis":null},
  "y":{"datum":0.666281,"type":"quantitative","scale":{"domain":[0.657706,0.667321],"nice":false,"zero":false},"axis":null}}},
{"data":{"values":[{}]},"mark":{"type":"text","text":"58","align":"left","baseline":"alphabetic","font":"Roboto","fontSize":35,"color":"#FFFFFF"},
 "encoding":{"x":{"datum":7.25,"type":"quantitative","scale":{"domain":[-0.125,230.875],"nice":false,"zero":false},"axis":null},
  "y":{"datum":0.666281,"type":"quantitative","scale":{"domain":[0.657706,0.667321],"nice":false,"zero":false},"axis":null}}},
{"data":{"values":[{}]},"mark":{"type":"text","text":"1","align":"left","baseline":"alphabetic","font":"DejaVu Sans","fontSize":14,"fontWeight":"bold","color":"#FFFFFF"},
 "encoding":{"x":{"datum":12.625,"type":"quantitative","scale":{"domain":[-0.125,230.875],"nice":false,"zero":false},"axis":null},
  "y":{"datum":0.666452,"type":"quantitative","scale":{"domain":[0.657706,0.667321],"nice":false,"zero":false},"axis":null}}},
{"data":{"values":[{}]},"mark":{"type":"text","text":"0.66","align":"left","baseline":"alphabetic","font":"DejaVu Sans","fontSize":13,"fontWeight":"bold","color":"#FFFFFF"},
 "encoding":{"x":{"datum":18.5,"type":"quantitative","scale":{"domain":[-0.125,230.875],"nice":false,"zero":false},"axis":null},
  "y":{"datum":0.666281,"type":"quantitative","scale":{"domain":[0.657706,0.667321],"nice":false,"zero":false},"axis":null}}},
{"data":{"values":[{}]},"mark":{"type":"text","text":"59","align":"left","baseline":"alphabetic","font":"Roboto","fontSize":35,"color":"#FFFFFF"},
 "encoding":{"x":{"datum":23.0,"type":"quantitative","scale":{"domain":[-0.125,230.875],"nice":false,"zero":false},"axis":null},
  "y":{"datum":0.666281,"type":"quantitative","scale":{"domain":[0.657706,0.667321],"nice":false,"zero":false},"axis":null}}},
{"data":{"values":[{}]},"mark":{"type":"text","text":"0","align":"left","baseline":"alphabetic","font":"DejaVu Sans","fontSize":14,"fontWeight":"bold","color":"#FFFFFF"},
 "encoding":{"x":{"datum":28.375,"type":"quantitative","scale":{"domain":[-0.125,230.875],"nice":false,"zero":false},"axis":null},
  "y":{"datum":0.666452,"type":"quantitative","scale":{"domain":[0.657706,0.667321],"nice":false,"zero":false},"axis":null}}}
]
},
{
"width":1848,"height":22,
"resolve":{"axis":{"x":"independent","y":"independent"}},
"layer":[
{"data":{"name":"candles"},"mark":{"type":"tick","opacity":0},
 "encoding":{"x":{"field":"i","type":"quantitative","scale":{"domain":[-0.125,230.875],"nice":false,"zero":false},
   "axis":{"orient":"bottom","values":[0,12,24,36,48,60,72,84,96,108,120,132,144,156,168,180],"labelExpr":"['9 Sep 2025','9 Sep 19:00','10 Sep 01:00','10 Sep 07:00','10 Sep 13:00','10 Sep 19:00','11 Sep 01:00','11 Sep 07:00','11 Sep 13:00','11 Sep 19:00','12 Sep 01:00','12 Sep 07:00','12 Sep 13:00','12 Sep 19:00','15 Sep 01:00','15 Sep 07:00'][round(datum.value/12)]","tickSize":5,"labelAlign":"left","labelBaseline":"top","labelOffset":2,"labelPadding":2}},
  "y":{"datum":0.3,"type":"quantitative","scale":{"domain":[-0.9,1.55],"nice":false,"zero":false},"axis":null}}},
{"data":{"name":"subScale"},"mark":{"type":"tick","opacity":0},
 "encoding":{"y":{"field":"v","type":"quantitative","scale":{"domain":[-0.9,1.55],"nice":false,"zero":false},
   "axis":{"orient":"right","values":[0,1],"format":"d","ticks":false,"labelFontSize":10,"labelPadding":7}}}},
{"data":{"values":[{}]},"mark":{"type":"text","text":".Analyst Views","align":"left","baseline":"middle","font":"DejaVu Sans","fontSize":10,"color":"#000000"},
 "encoding":{"x":{"datum":0.5,"type":"quantitative","scale":{"domain":[-0.125,230.875],"nice":false,"zero":false},"axis":null},
  "y":{"datum":0.44,"type":"quantitative","scale":{"domain":[-0.9,1.55],"nice":false,"zero":false},"axis":null}}},
{"data":{"values":[{}]},"mark":{"type":"text","text":"AUD/USD Intraday:","align":"left","baseline":"alphabetic","font":"DejaVu Sans","fontSize":11.5,"fontWeight":"bold","color":"#000000"},
 "encoding":{"x":{"datum":166.9,"type":"quantitative","scale":{"domain":[-0.125,230.875],"nice":false,"zero":false},"axis":null},
  "y":{"datum":-0.56,"type":"quantitative","scale":{"domain":[-0.9,1.55],"nice":false,"zero":false},"axis":null}}},
{"data":{"values":[{}]},"mark":{"type":"text","text":"further upside.","align":"left","baseline":"alphabetic","font":"DejaVu Sans","fontSize":11.5,"color":"#000000"},
 "encoding":{"x":{"datum":185.0,"type":"quantitative","scale":{"domain":[-0.125,230.875],"nice":false,"zero":false},"axis":null},
  "y":{"datum":-0.56,"type":"quantitative","scale":{"domain":[-0.9,1.55],"nice":false,"zero":false},"axis":null}}}
]
}
]
}
